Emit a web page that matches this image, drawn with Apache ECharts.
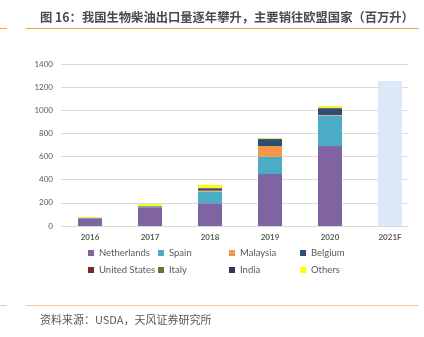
<!DOCTYPE html>
<html>
<head>
<meta charset="utf-8">
<script src="https://cdn.jsdelivr.net/npm/echarts@6/dist/echarts.min.js"></script>
<style>
html,body{margin:0;padding:0;background:#fff;}
#c{width:424px;height:337px;}
</style>
</head>
<body>
<div id="c"></div>
<script>
var years = ['2016', '2017', '2018', '2019', '2020', '2021F'];
var yTicks = [0, 200, 400, 600, 800, 1000, 1200, 1400];
var netherlands = [67, 162, 196, 449, 691, null];
var spain = [2, 8, 100, 150, 262, null];
var malaysia = [0, 1, 10, 92, 6, null];
var belgium = [0, 2, 18, 60, 58, null];
var unitedStates = [0, 0, 2, 2, 2, null];
var italy = [2, 0, 0, 0, 0, null];
var india = [0, 0, 3, 2, 3, null];
var others = [6, 16, 25, 5, 15, null];
var forecast2021 = [null, null, null, null, null, 1253];

var names = ['Netherlands', 'Spain', 'Malaysia', 'Belgium', 'United States', 'Italy', 'India', 'Others'];
var colors = ['#8064a2', '#4bacc6', '#f79646', '#2c4d75', '#772c2a', '#5f7530', '#3f3151', '#ffff00'];
var values = [netherlands, spain, malaysia, belgium, unitedStates, italy, india, others];

var chart = echarts.init(document.getElementById('c'), null, {renderer: 'canvas'});
var series = names.map(function (n, i) {
  return {
    name: n, type: 'bar', stack: 'total', xAxisIndex: 1, yAxisIndex: 1,
    barWidth: 24, itemStyle: {color: colors[i]}, data: values[i]
  };
});
series.push({
  name: '2021F', type: 'bar', stack: 'total', xAxisIndex: 1, yAxisIndex: 1,
  barWidth: 24, itemStyle: {color: '#dce9f8'}, data: forecast2021
});

function legendCol(left, items) {
  return {
    orient: 'vertical', left: left, top: 242, itemWidth: 6, itemHeight: 6, itemGap: 5,
    icon: 'rect', data: items, selectedMode: false,
    textStyle: {fontFamily: 'Lato', fontSize: 9.5, color: '#595959', lineHeight: 12}
  };
}

chart.setOption({
  animation: false,
  backgroundColor: '#fff',
  color: colors,
  title: [{
    text: '图 16：我国生物柴油出口量逐年攀升，主要销往欧盟国家（百万升）',
    left: 35, top: 6,
    textStyle: {fontFamily: 'Noto Sans CJK SC', fontSize: 12.3, fontWeight: 'bold', color: '#4a4a4a'}
  }, {
    text: '资料来源：USDA，天风证券研究所',
    left: 35, top: 309,
    textStyle: {fontFamily: 'Noto Sans CJK SC', fontSize: 11, fontWeight: 'normal', color: '#595959'}
  }],
  legend: [
    legendCol(83, ['Netherlands', 'United States']),
    legendCol(153, ['Spain', 'Italy']),
    legendCol(224, ['Malaysia', 'India']),
    legendCol(295, ['Belgium', 'Others'])
  ],
  grid: [
    {left: 61, top: 64, width: 347, height: 162},
    {left: 60, top: 64, width: 360, height: 162}
  ],
  xAxis: [
    {type: 'category', gridIndex: 0, data: years, show: false},
    {type: 'category', gridIndex: 1, data: years,
     axisLine: {show: false}, axisTick: {show: false},
     axisLabel: {fontFamily: 'Lato', fontSize: 8, fontWeight: 'bold', color: '#595959', margin: 7}}
  ],
  yAxis: [
    {type: 'value', gridIndex: 0, min: 0, max: 1400, interval: 200,
     axisLine: {show: false}, axisTick: {show: false},
     axisLabel: {fontFamily: 'Lato', fontSize: 8, color: '#595959', margin: 8,
                 formatter: function (v) { return String(v); }},
     splitLine: {lineStyle: {color: '#d9d9d9', width: 1}}},
    {type: 'value', gridIndex: 1, min: 0, max: 1400, interval: 200, show: false,
     splitLine: {show: false}}
  ],
  graphic: [
    {type: 'line', shape: {x1: 0, y1: 28.5, x2: 7, y2: 28.5}, style: {stroke: '#f5a04c', lineWidth: 1}},
    {type: 'line', shape: {x1: 26, y1: 28.5, x2: 419, y2: 28.5}, style: {stroke: '#f5a04c', lineWidth: 1}},
    {type: 'line', shape: {x1: 0, y1: 305.5, x2: 7, y2: 305.5}, style: {stroke: '#fcc794', lineWidth: 1}},
    {type: 'line', shape: {x1: 26, y1: 305.5, x2: 419, y2: 305.5}, style: {stroke: '#fcc794', lineWidth: 1}}
  ],
  series: series
});
</script>
</body>
</html>
